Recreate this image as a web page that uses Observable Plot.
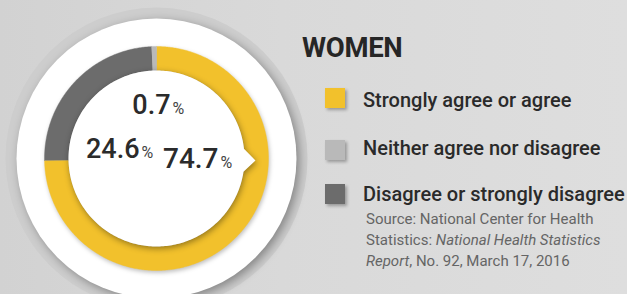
<!DOCTYPE html>
<html>
<head>
<meta charset="utf-8">
<script src="https://cdn.jsdelivr.net/npm/d3@7"></script>
<script src="https://cdn.jsdelivr.net/npm/@observablehq/plot@0.6"></script>
<style>
  html, body { margin: 0; padding: 0; }
  body { width: 627px; height: 294px; overflow: hidden; font-family: Roboto, "Noto Sans", sans-serif; }
  #wrap { position: relative; width: 627px; height: 294px; overflow: hidden;
          background: linear-gradient(to right, #d2d2d2 0%, #d9d9d9 45%, #dedede 100%); }
  #chart { position: absolute; left: 0; top: 0; }
  .abs { position: absolute; white-space: nowrap; }
  .title { left: 302px; top: 34px; font-size: 27.5px; line-height: 27.5px; font-weight: 700; color: #262626; letter-spacing: -0.3px; }
  .sw { position: absolute; left: 325px; width: 20px; height: 20px; box-shadow: 2px 2px 3px rgba(0,0,0,0.3); }
  .item { left: 363px; font-size: 20px; line-height: 20px; font-weight: 500; color: #2a2a2a; }
  .source { left: 366px; top: 209px; font-size: 15px; line-height: 21px; color: #656565; }
</style>
</head>
<body>
<div id="wrap">
  <div id="chart"></div>
  <div id="legend"></div>
</div>
<script>
// ---- data ----
const panelTitle = "WOMEN";
const categories = ["Strongly agree or agree", "Neither agree nor disagree", "Disagree or strongly disagree"];
const values = [74.7, 0.7, 24.6];
const valueLabels = ["74.7", "0.7", "24.6"];
const colors = ["#f2c12c", "#b9b9b9", "#6c6c6c"];
const ringOrder = [0, 2, 1]; // clockwise from 12 o'clock
const sourceLines = [
  "Source: National Center for Health",
  "Statistics: <i>National Health Statistics</i>",
  "<i>Report</i>, No. 92, March 17, 2016"
];

// ---- layout ----
const W = 320, H = 294, CX = 156, CY = 158;
const R_OUT = 112, R_IN = 88, R_DISC = 140, R_HALO = 151;
const labelLayout = [ // [x of number's right edge, baseline y, font size] relative to centre, y up
  [62, -9, 28],
  [14, 45, 27],
  [-17, 1, 27]
];

// ring slices from d3.pie
const arcs = d3.pie().sort(null).value(i => values[i])(ringOrder);
const ringPts = [];
for (const a of arcs) {
  const cat = categories[a.data];
  const n = Math.max(2, Math.ceil((a.endAngle - a.startAngle) / 0.01));
  for (let k = 0; k <= n; k++) {
    const t = a.startAngle + (a.endAngle - a.startAngle) * k / n;
    ringPts.push({cat, x: R_OUT * Math.sin(t), y: R_OUT * Math.cos(t)});
  }
  for (let k = n; k >= 0; k--) {
    const t = a.startAngle + (a.endAngle - a.startAngle) * k / n;
    ringPts.push({cat, x: R_IN * Math.sin(t), y: R_IN * Math.cos(t)});
  }
}

// inner white disc with pointer at 3 o'clock
const pc = Math.PI / 2 + 0.02, pd = 0.13, tipR = R_IN + 11;
const innerPts = [];
{
  const a0 = pc + pd, a1 = pc - pd + 2 * Math.PI, n = 300;
  for (let k = 0; k <= n; k++) {
    const t = a0 + (a1 - a0) * k / n;
    innerPts.push({x: R_IN * Math.sin(t), y: R_IN * Math.cos(t)});
  }
  innerPts.push({x: tipR * Math.sin(pc), y: tipR * Math.cos(pc)});
}

const labelData = valueLabels.map((v, i) => ({
  v, x: labelLayout[i][0], y: labelLayout[i][1], fs: labelLayout[i][2]
}));

const marks = [
  Plot.dot([0], {x: 0, y: 0, r: R_HALO, fill: "#cdcdcd", stroke: "none"}),
  Plot.dot([0], {x: 0, y: 0, r: R_DISC, fill: "#ffffff", stroke: "none"}),
  Plot.line(ringPts, {x: "x", y: "y", z: "cat", fill: "cat", stroke: "cat", strokeWidth: 0.4, curve: "linear"}),
  Plot.line(innerPts, {x: "x", y: "y", fill: "#ffffff", stroke: "none", curve: "linear"})
];
labelData.forEach(d => {
  marks.push(Plot.text([d], {x: "x", y: "y", text: "v", textAnchor: "end", lineAnchor: "bottom",
    fontSize: d.fs, fontWeight: 500, fill: "#2b2b2b", fontFamily: "Roboto"}));
  marks.push(Plot.text([d], {x: "x", y: "y", text: () => "%", textAnchor: "start", lineAnchor: "bottom", dx: 2,
    fontSize: 16, fill: "#444", fontFamily: "Roboto"}));
});

const chart = Plot.plot({
  width: W, height: H, margin: 0,
  x: {domain: [-CX, W - CX], axis: null},
  y: {domain: [CY - H, CY], axis: null},
  color: {domain: categories, range: colors},
  style: {background: "transparent", overflow: "visible"},
  marks
});
const groups = chart.querySelectorAll(":scope > g");
groups[0].style.filter = "blur(0.6px)";
groups[1].style.filter = "drop-shadow(3px 3px 5px rgba(0,0,0,0.35))";
groups[2].style.filter = "drop-shadow(1px 2px 2px rgba(0,0,0,0.25))";
groups[3].style.filter = "drop-shadow(1px 2px 3px rgba(0,0,0,0.4))";
document.getElementById("chart").appendChild(chart);

// ---- legend (HTML) ----
const leg = document.getElementById("legend");
const t = document.createElement("div");
t.className = "abs title"; t.textContent = panelTitle; leg.appendChild(t);
const swTops = [88, 140, 184];
const txtTops = [90, 138, 184];
categories.forEach((c, i) => {
  const s = document.createElement("div");
  s.className = "sw"; s.style.top = swTops[i] + "px"; s.style.background = colors[i];
  leg.appendChild(s);
  const l = document.createElement("div");
  l.className = "abs item"; l.style.top = txtTops[i] + "px"; l.textContent = c;
  leg.appendChild(l);
});
const src = document.createElement("div");
src.className = "abs source"; src.innerHTML = sourceLines.join("<br>");
leg.appendChild(src);
</script>
</body>
</html>
